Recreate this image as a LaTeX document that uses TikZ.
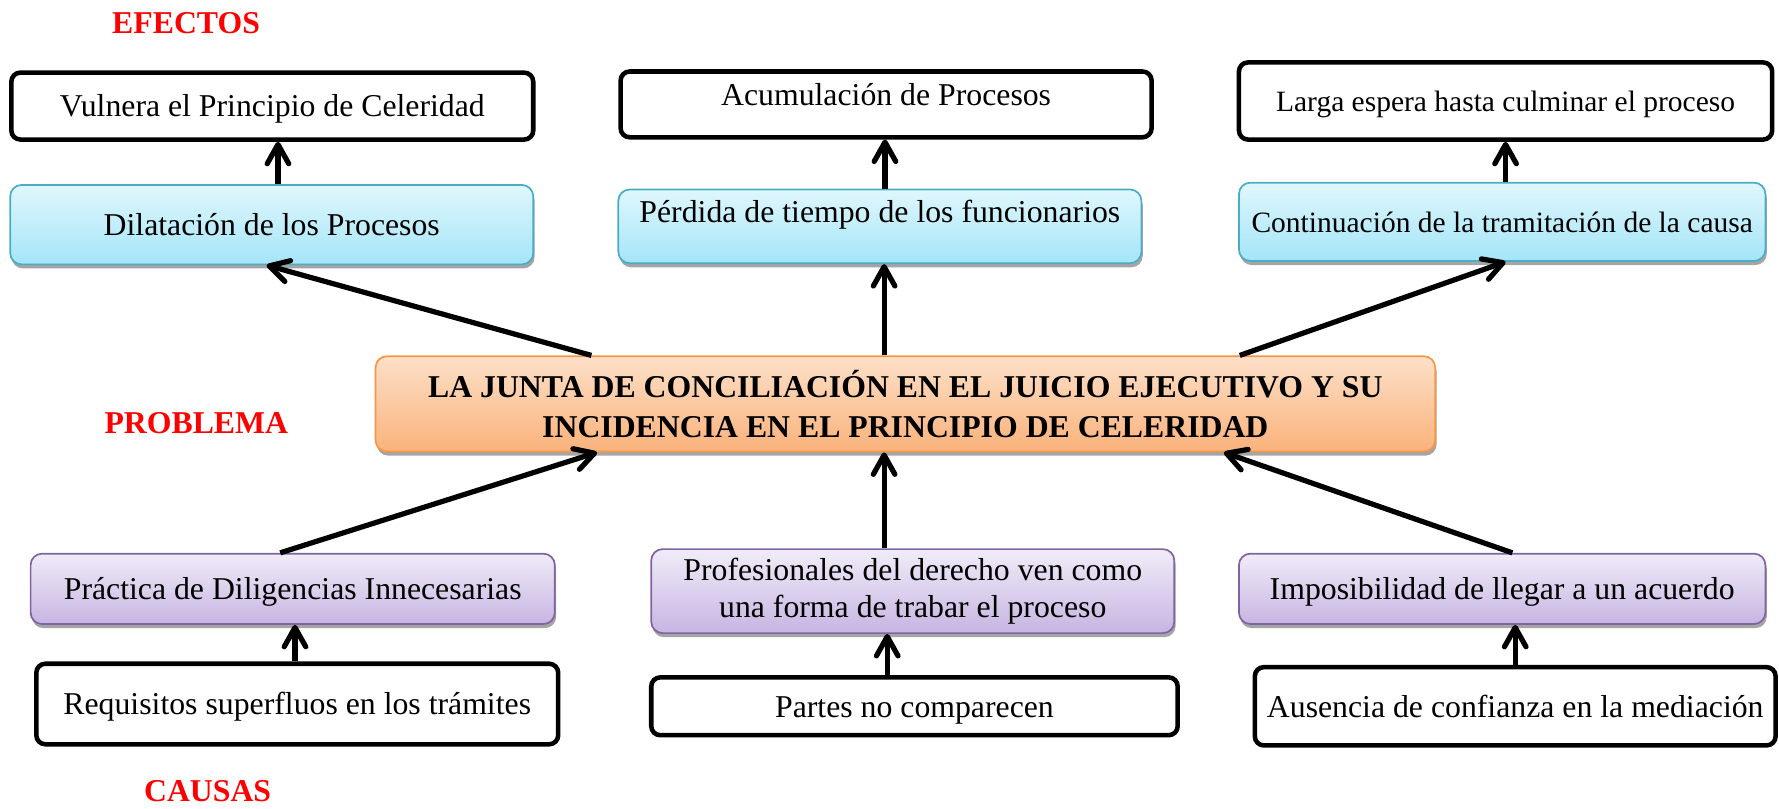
\documentclass[tikz,border=0pt]{standalone}
\usepackage{fontspec}
\setmainfont{Liberation Serif}
\usetikzlibrary{arrows.meta,calc,shadows}
\definecolor{blueTop}{HTML}{E0F7FD}
\definecolor{blueBot}{HTML}{A3E5F8}
\definecolor{blueEdge}{HTML}{4BACC6}
\definecolor{orTop}{HTML}{FDE0C8}
\definecolor{orBot}{HTML}{FAB27B}
\definecolor{orEdge}{HTML}{F79646}
\definecolor{puTop}{HTML}{F0ECF8}
\definecolor{puBot}{HTML}{C7B5E2}
\definecolor{puEdge}{HTML}{8064A2}
\definecolor{tagred}{HTML}{FF0000}
\tikzset{
  base/.style={inner sep=0pt, align=center, font=\fontsize{14}{16.5}\selectfont},
  oneline/.style={text height=11pt, text depth=1.5pt},
  whitebox/.style={base, draw=black, line width=2pt, rounded corners=4pt, fill=white},
  colbox/.style={base, rounded corners=5pt, line width=0.75pt,
    drop shadow={shadow xshift=0.6pt, shadow yshift=-1.8pt, fill=black!50, opacity=0.7}},
  bluebox/.style={colbox, draw=blueEdge, top color=blueTop, bottom color=blueBot},
  orbox/.style={colbox, draw=orEdge, top color=orTop, bottom color=orBot},
  pubox/.style={colbox, draw=puEdge, top color=puTop, bottom color=puBot},
  arr/.style={line width=2.3pt, -{Straight Barb[length=8.5pt,width=9.5pt,round]}},
  tag/.style={text=tagred, inner sep=0pt, font=\bfseries\fontsize{14}{16}\selectfont}
}
\begin{document}
\begin{tikzpicture}[x=0.5pt,y=-0.5pt]
\fill[white] (0,0) rectangle (1568,713);
\useasboundingbox (0,0) rectangle (1568,713);

% labels
\node[tag] (efectos) at (164,20) {EFECTOS};
\node[tag] (problema) at (173,373) {PROBLEMA};
\node[tag] (causas) at (183,697) {CAUSAS};

% effects, top row
\node[whitebox, oneline, minimum width=230pt, minimum height=29.5pt] (b1) at (240,93.5) {Vulnera el Principio de Celeridad};
\node[whitebox, text height=11pt, text depth=10pt, minimum width=234pt, minimum height=29pt] (b2) at (781,92) {Acumulación de Procesos};
\node[whitebox, oneline, minimum width=235pt, minimum height=34pt, font=\fontsize{13}{15}\selectfont] (b3) at (1327,89) {Larga espera hasta culminar el proceso};

% effects, second row
\node[bluebox, oneline, minimum width=230.5pt, minimum height=35pt] (c1) at (239.5,198) {Dilatación de los Procesos};
\node[bluebox, text height=11pt, text depth=14.5pt, minimum width=230.5pt, minimum height=32.5pt] (c2) at (775.5,199.5) {Pérdida de tiempo de los funcionarios};
\node[bluebox, oneline, minimum width=232pt, minimum height=34.5pt, font=\fontsize{13}{15}\selectfont] (c3) at (1324,195.5) {Continuación de la tramitación de la causa};

% problem
\node[orbox, minimum width=467pt, minimum height=42pt, font=\bfseries\fontsize{14}{17.5}\selectfont] (p) at (798,356) {LA JUNTA DE CONCILIACIÓN EN EL JUICIO EJECUTIVO Y SU\\INCIDENCIA EN EL PRINCIPIO DE CELERIDAD};

% causes
\node[pubox, oneline, minimum width=231pt, minimum height=31pt] (d1) at (258,519) {Práctica de Diligencias Innecesarias};
\node[pubox, minimum width=230.5pt, minimum height=37pt] (d2) at (804.5,521) {Profesionales del derecho ven como\\una forma de trabar el proceso};
\node[pubox, oneline, minimum width=232pt, minimum height=31pt] (d3) at (1324,519) {Imposibilidad de llegar a un acuerdo};

\node[whitebox, oneline, minimum width=230pt, minimum height=35.5pt] (e1) at (262,620.5) {Requisitos superfluos en los trámites};
\node[whitebox, oneline, minimum width=232pt, minimum height=25.5pt] (e2) at (806,622.5) {Partes no comparecen};
\node[whitebox, oneline, minimum width=229.5pt, minimum height=34.5pt] (e3) at (1335.5,622.5) {Ausencia de confianza en la mediación};

% anchor points
\coordinate (c1t) at ([xshift=2.75pt]c1.north);
\coordinate (c2t) at ([xshift=2.25pt]c2.north);
\coordinate (c3t) at ([xshift=1.5pt]c3.north);
\coordinate (pt1) at ($(p.north west)+(191,0)$);
\coordinate (pt2) at ($(p.north west)+(449,0)$);
\coordinate (pt3) at ($(p.north east)+(-173,0)$);
\coordinate (pb1) at ($(p.south west)+(196,0)$);
\coordinate (pb3) at ($(p.south east)+(-187,0)$);
\coordinate (d2t) at ($(d2.north west)+(206,0)$);
\coordinate (e1t) at ([xshift=-1pt]e1.north);
\coordinate (e2t) at ([xshift=-12pt]e2.north);

% connectors
\draw[arr] (c1t) -- (c1t |- b1.south);
\draw[arr] (c2t) -- (c2t |- b2.south);
\draw[arr] (c3t) -- (c3t |- b3.south);
\draw[arr] (pt1) -- ([xshift=-2.25pt]c1.south);
\draw[arr] (pt2) -- (pt2 |- c2.south);
\draw[arr] (pt3) -- ([xshift=1.5pt]c3.south);
\draw[arr] ([xshift=-5.5pt]d1.north) -- (pb1);
\draw[arr] (d2t) -- (d2t |- p.south);
\draw[arr] ([xshift=4.5pt]d3.north) -- (pb3);
\draw[arr] (e1t) -- (e1t |- d1.south);
\draw[arr] (e2t) -- (e2t |- d2.south);
\draw[arr] (e3.north) -- (e3.north |- d3.south);
\end{tikzpicture}
\end{document}
